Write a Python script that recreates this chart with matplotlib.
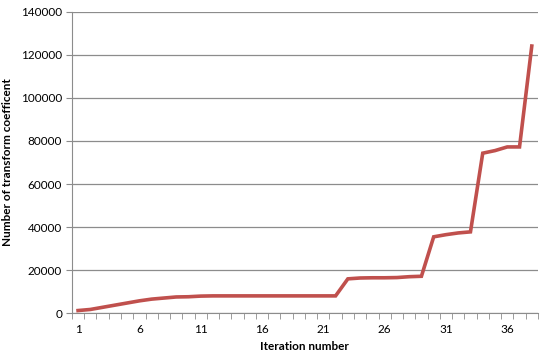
import matplotlib.pyplot as plt
import numpy as np

iterations = np.arange(1, 39)
coefficients = [1300, 1800, 2800, 3800, 4800, 5800, 6600, 7100, 7600, 7700,
                8000, 8100, 8100, 8100, 8100, 8100, 8100, 8100, 8100, 8100,
                8100, 8100, 16000, 16400, 16500, 16500, 16600, 17000, 17200, 35500,
                36500, 37300, 37800, 74300, 75500, 77200, 77200, 124000]
label_ticks = [1, 6, 11, 16, 21, 26, 31, 36]

plt.rcParams['font.family'] = ['Lato', 'DejaVu Sans']

fig = plt.figure(figsize=(5.45, 3.61), dpi=100)
ax = fig.add_axes([0.132, 0.132, 0.855, 0.836])

ax.plot(iterations, coefficients, color='#c0504d', lw=2.6, solid_joinstyle='miter', zorder=3)

ax.set_xlim(0.5, 38.5)
ax.set_ylim(0, 140000)
ax.set_yticks(np.arange(0, 140001, 20000))
ax.grid(axis='y', color='#8c8c8c', lw=0.9)
ax.set_axisbelow(True)

# labels on every fifth category, tick marks between categories
ax.set_xticks(label_ticks)
ax.set_xticks(np.arange(0.5, 39, 1), minor=True)
ax.tick_params(axis='x', which='major', length=0, pad=8, labelsize=8.5)
ax.tick_params(axis='x', which='minor', length=4, color='#8c8c8c', direction='out')
ax.tick_params(axis='y', length=4, color='#8c8c8c', labelsize=8.5, pad=3)

for s in ['top', 'right']:
    ax.spines[s].set_visible(False)
for s in ['left', 'bottom']:
    ax.spines[s].set_color('#8c8c8c')

ax.set_xlabel('Iteration number', fontsize=8.5, fontweight='bold', labelpad=4)
ax.set_ylabel('Number of transform coefficent', fontsize=8.5, fontweight='bold', labelpad=6)

fig.savefig('out.png', dpi=100)
